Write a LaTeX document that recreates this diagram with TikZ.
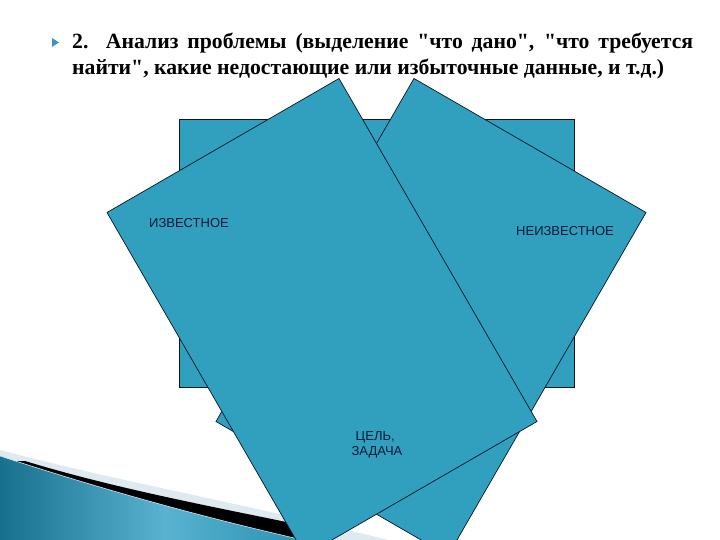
\documentclass[tikz,border=0pt]{standalone}
\usepackage{fontspec}
\usepackage{graphicx}
\setmainfont{Liberation Serif}
\newfontfamily\titlefont{Liberation Serif}
\newfontfamily\labelfont{Liberation Sans}
\definecolor{panelfill}{RGB}{48,160,190}
\definecolor{panelline}{RGB}{10,20,40}
\definecolor{labelcol}{RGB}{12,24,58}
\definecolor{sweepdark}{RGB}{22,112,142}
\definecolor{sweeplight}{RGB}{88,178,208}
\definecolor{sweepmid}{RGB}{34,140,172}
\definecolor{stripelight}{RGB}{222,233,240}
\definecolor{bulletcol}{RGB}{60,150,190}
\newsavebox\tltwo
\newlength\tlw
\tikzset{
  panel/.style={fill=panelfill, draw=panelline, line width=0.7pt, line join=miter},
  lbl/.style={font=\labelfont\fontsize{13}{15.7}\selectfont, text=labelcol, inner sep=0pt},
  ttl/.style={inner sep=0pt, text=black}
}
\begin{document}
\sbox\tltwo{\titlefont\bfseries\fontsize{20}{24}\selectfont найти", какие недостающие или избыточные данные, и т.д.)}%
\setlength\tlw{\wd\tltwo}%
\begin{tikzpicture}[x=1pt,y=-1pt]
\useasboundingbox (0,0) rectangle (720,540);
\clip (0,0) rectangle (720,540);
\fill[white] (0,0) rectangle (720,540);

% bottom-left sweep
\fill[stripelight] (0,450) .. controls (120,482) and (240,502) .. (420,548) -- (0,548) -- cycle;
\fill[black] (25,461) .. controls (120,490) and (220,508) .. (330,531) -- (330,548) -- (0,548) -- (0,461) -- cycle;
\shade[left color=sweepdark, right color=sweepmid, middle color=sweeplight]
  (0,456) .. controls (110,492) and (220,522) .. (330,546) -- (330,548) -- (0,548) -- cycle;
\draw[white!70!sweeplight, line width=0.6pt] (0,456) .. controls (110,492) and (220,522) .. (330,546);

% panels
\draw[panel] (179,119) rectangle (574,387);
\draw[panel] (414,78.5) -- (646,212.5) -- (448,555.5) -- (216,421.5) -- cycle;
\draw[panel] (339,78.5) -- (537,421.5) -- (305,555.5) -- (107,212.5) -- cycle;

% labels
\node[lbl, anchor=base west] (known) at (149,227.5) {ИЗВЕСТНОЕ};
\node[lbl, anchor=base west] (unknown) at (516,235.5) {НЕИЗВЕСТНОЕ};
\node[lbl, align=center, anchor=base] (goal) at (377,455.7) {ЦЕЛЬ,\kern3.6pt\\ЗАДАЧА};

% title
\pgfmathsetmacro\tsc{592/\tlw}
\pgfmathsetlengthmacro\lonew{621/\tsc}
\fill[bulletcol] (52,38) -- (59,42.5) -- (52,47) -- cycle;
\node[ttl, anchor=base west] (line1) at (72,49) {\scalebox{\tsc}{\makebox[\lonew][s]{\titlefont\bfseries\fontsize{20}{24}\selectfont 2. Анализ проблемы (выделение "что дано", "что требуется}}};
\node[ttl, anchor=base west] (line2) at (72,75) {\scalebox{\tsc}{\usebox\tltwo}};
\end{tikzpicture}
\end{document}
